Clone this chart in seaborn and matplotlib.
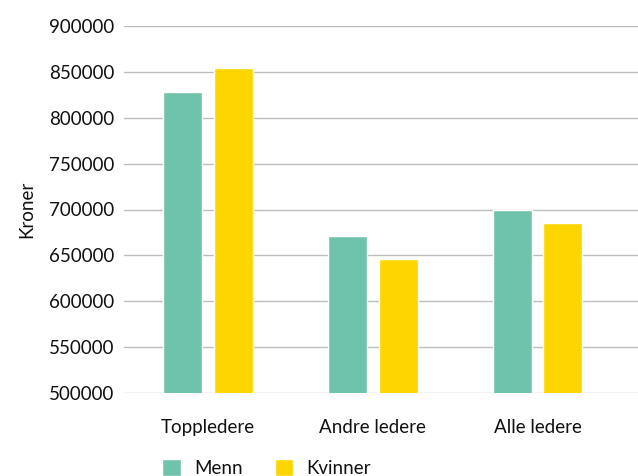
import matplotlib
matplotlib.use("Agg")
import matplotlib.pyplot as plt
import seaborn as sns
import pandas as pd
from matplotlib.patches import Patch

categories = ["Toppledere", "Andre ledere", "Alle ledere"]
series_names = ["Menn", "Kvinner"]
menn = [828000, 671000, 700000]
kvinner = [854000, 646000, 685000]
yticks = [500000, 550000, 600000, 650000, 700000, 750000, 800000, 850000, 900000]
colors = ["#70c3ab", "#fdd600"]

rows = []
for c, m, k in zip(categories, menn, kvinner):
    rows.append({"cat": c, "kjonn": series_names[0], "val": m})
    rows.append({"cat": c, "kjonn": series_names[1], "val": k})
df = pd.DataFrame(rows)

sns.set_theme(style="white")
plt.rcParams["font.family"] = ["Lato", "DejaVu Sans"]

fig = plt.figure(figsize=(6.38, 4.76), dpi=100)
ax = fig.add_axes([124/638, 83/476, 1 - 124/638, (393-26)/476])

sns.barplot(data=df, x="cat", y="val", hue="kjonn", order=categories,
            hue_order=series_names, palette=colors, width=0.618, gap=0.235,
            saturation=1, legend=False, ax=ax, zorder=3)

ax.set_ylim(500000, 900000)
ax.set_xlim(-0.51, 2.61)
ax.set_yticks(yticks)
ax.set_yticklabels([str(t) for t in yticks])
ax.yaxis.grid(True, color="#bdbdbd", linewidth=1.0, zorder=0)
ax.set_axisbelow(True)
for s in ax.spines.values():
    s.set_visible(False)
ax.tick_params(axis="both", length=0, labelsize=13.5, colors="#111111")
ax.tick_params(axis="y", pad=7)
ax.tick_params(axis="x", pad=19)
ax.set_xlabel("")
ax.set_ylabel("Kroner", fontsize=13.5, color="#111111", labelpad=10)

handles = [Patch(facecolor=colors[0], label=series_names[0]),
           Patch(facecolor=colors[1], label=series_names[1])]
fig.legend(handles=handles, loc="center", bbox_to_anchor=(0.418, 0.016), ncol=2,
           frameon=False, fontsize=13.5, handlelength=1.0, handleheight=1.0,
           handletextpad=0.7, columnspacing=1.7, labelcolor="#111111")

fig.savefig("out.png", dpi=100)
